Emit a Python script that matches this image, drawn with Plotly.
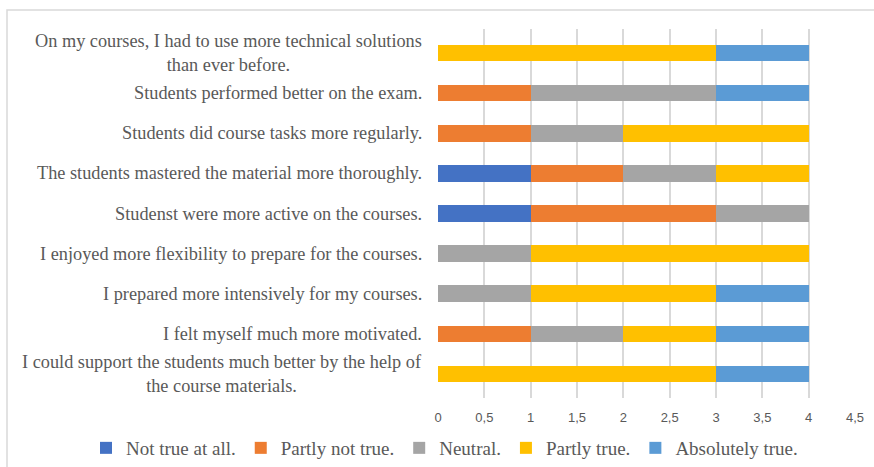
import plotly.graph_objects as go

categories = [
    "On my courses, I had to use more technical solutions than ever before.",
    "Students performed better on the exam.",
    "Students did course tasks more regularly.",
    "The students mastered the material more thoroughly.",
    "Studenst were more active on the courses.",
    "I enjoyed more flexibility to prepare for the courses.",
    "I prepared more intensively for my courses.",
    "I felt myself much more motivated.",
    "I could support the students much better by the help of the course materials.",
]
# displayed line breaks of the category labels
label_text = [
    "On my courses, I had to use more technical solutions<br>than ever before.",
    "Students performed better on the exam.",
    "Students did course tasks more regularly.",
    "The students mastered the material more thoroughly.",
    "Studenst were more active on the courses.",
    "I enjoyed more flexibility to prepare for the courses.",
    "I prepared more intensively for my courses.",
    "I felt myself much more motivated.",
    "I could support the students much better by the help of<br>the course materials.",
]
series_names = ["Not true at all.", "Partly not true.", "Neutral.", "Partly true.", "Absolutely true."]
not_true = [0, 0, 0, 1, 1, 0, 0, 0, 0]
partly_not = [0, 1, 1, 1, 2, 0, 0, 1, 0]
neutral = [0, 2, 1, 1, 1, 1, 1, 1, 0]
partly_true = [3, 0, 2, 1, 0, 3, 2, 1, 3]
absolutely = [1, 1, 0, 0, 0, 0, 1, 1, 1]
colors = ["#4472C4", "#ED7D31", "#A5A5A5", "#FFC000", "#5B9BD5"]

W, H = 874, 467
L, R, T, B = 438, 19, 29, 69
pw, ph = W - L - R, H - T - B

fig = go.Figure()
for name, vals, col in zip(series_names, [not_true, partly_not, neutral, partly_true, absolutely], colors):
    fig.add_trace(go.Bar(y=categories, x=vals, name=name, orientation="h",
                         marker=dict(color=col, line=dict(width=0))))

lab_font = dict(family="Liberation Serif", size=18.3, color="#595959")
annots = []
for c, txt in zip(categories, label_text):
    annots.append(dict(text=txt, xref="paper", x=0, yref="y", y=c, xanchor="right",
                       xshift=-14, align="center", showarrow=False, font=lab_font))

fig.update_layout(
    width=W, height=H, barmode="stack", bargap=0.585,
    margin=dict(l=L, r=R, t=T, b=B, autoexpand=False),
    plot_bgcolor="white", paper_bgcolor="white",
    separators=",.",
    xaxis=dict(range=[0, 4.5], dtick=0.5, showgrid=True, gridcolor="#d9d9d9", gridwidth=1.5,
               zeroline=False, showline=False, ticks="", ticklabelstandoff=10,
               tickfont=dict(family="Liberation Sans", size=13, color="#595959")),
    yaxis=dict(autorange="reversed", showticklabels=False, showgrid=False, zeroline=False, showline=False),
    legend=dict(orientation="h", x=(86 - L) / pw, xanchor="left", y=(H - B - 448) / ph, yanchor="middle",
                font=dict(family="Liberation Serif", size=19, color="#595959"), traceorder="normal"),
    annotations=annots,
    shapes=[dict(type="rect", xref="paper", yref="paper",
                 x0=(7 - L) / pw, x1=(W + 5 - L) / pw, y0=(H - B - (H + 5)) / ph, y1=(H - B - 10) / ph,
                 line=dict(color="#d9d9d9", width=1.5), fillcolor="rgba(0,0,0,0)", layer="below")],
)
fig.write_html("out.html", config={"displayModeBar": False},
               post_script="document.body.style.margin='0';")
